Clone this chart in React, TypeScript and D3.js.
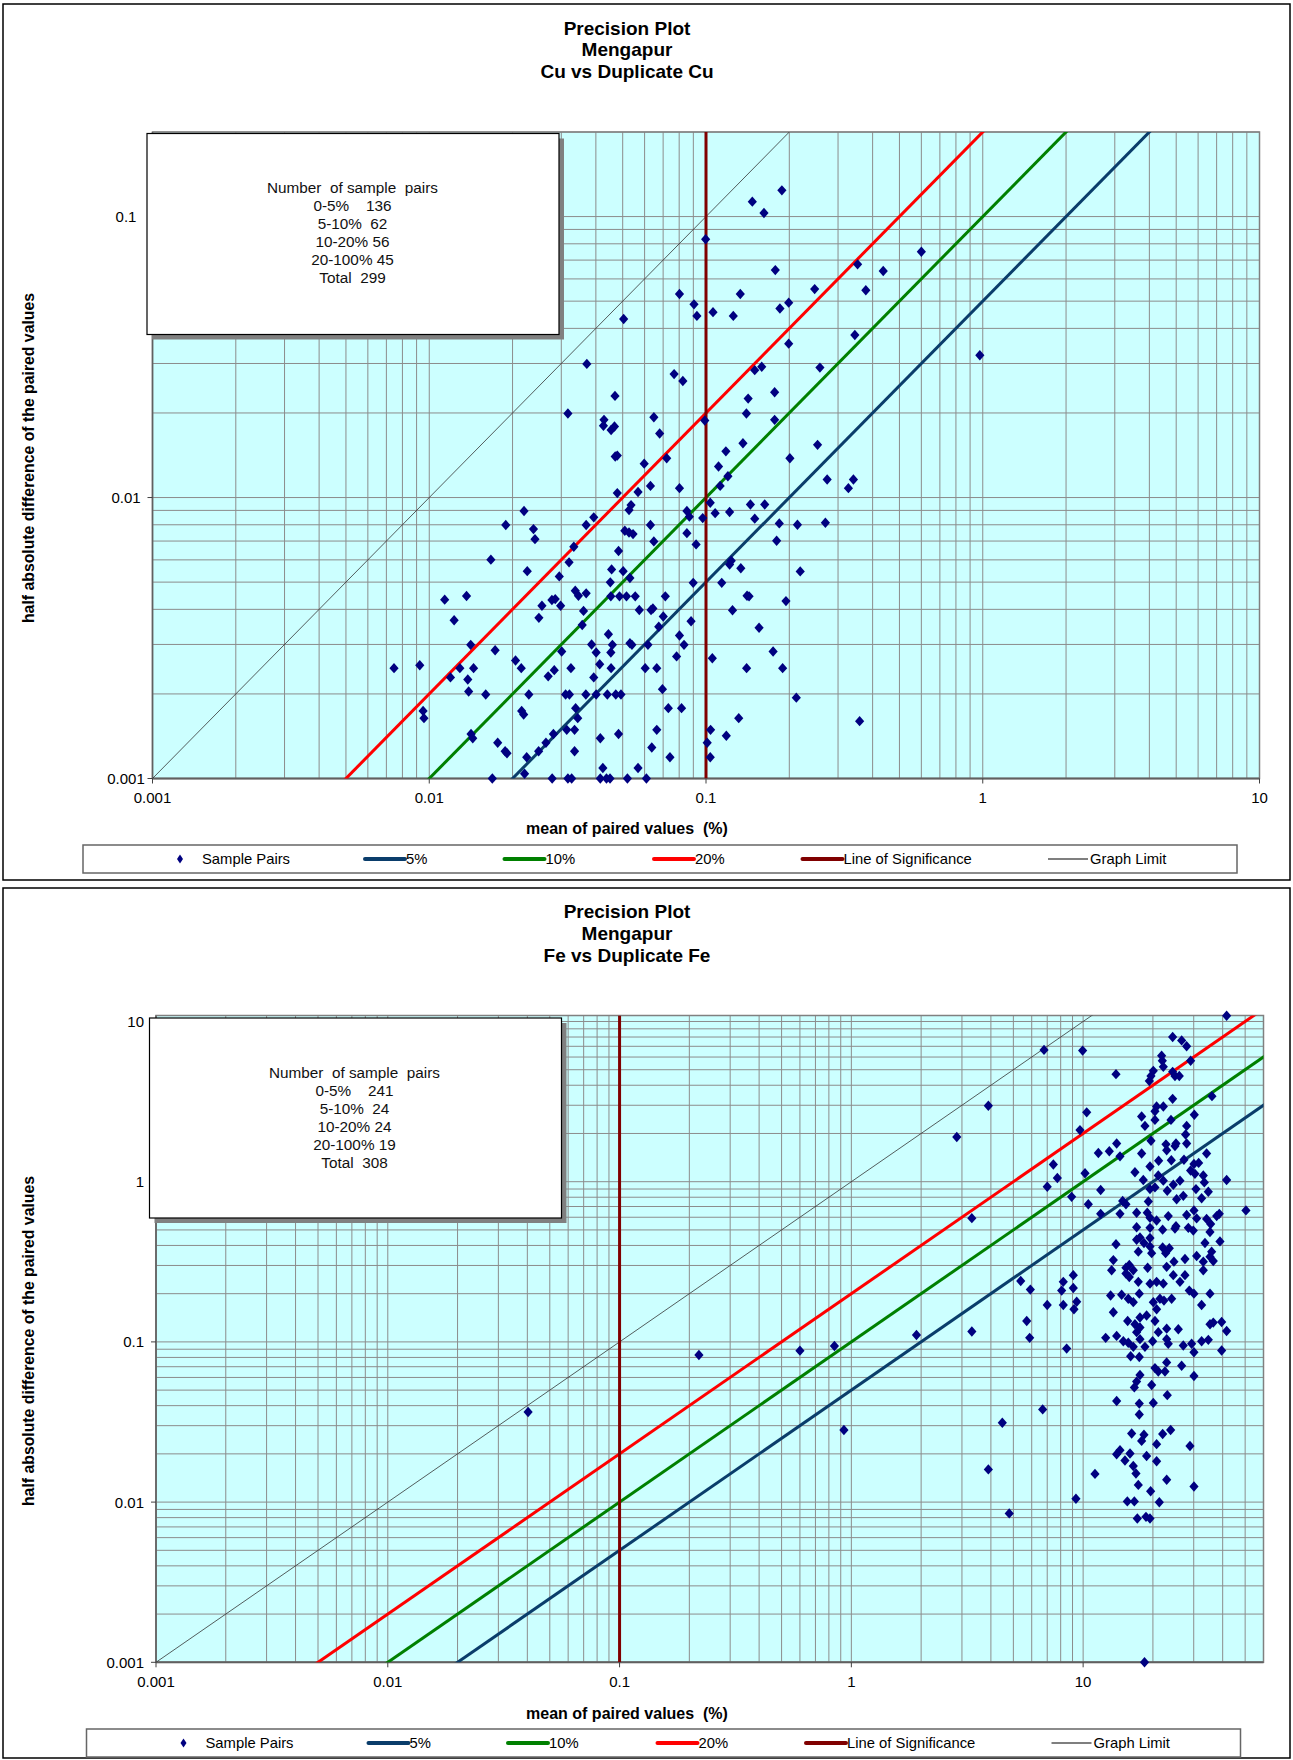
import React from 'react';
import * as d3 from 'd3';

const FONT = 'Liberation Sans, Arial, Helvetica, sans-serif';

// ---- Cu chart ----
const cuTitle = ['Precision Plot', 'Mengapur', 'Cu vs Duplicate Cu'];
const cuSummary = ['Number  of sample  pairs', '0-5%    136', '5-10%  62', '10-20% 56', '20-100% 45', 'Total  299'];
const cuXTicks = [0.001, 0.01, 0.1, 1, 10];
const cuYTicks = [0.001, 0.01, 0.1];
const cuXDomain = [0.001, 10];
const cuYDomain = [0.001, 0.2];

// mean of paired values (%)
const cuMean = [
  0.188, 0.147, 0.162, 0.0997, 0.6, 0.353, 0.178, 0.437, 0.247, 0.378,
  0.0802, 0.133, 0.199, 0.0905, 0.185, 0.106, 0.0927, 0.1255, 0.0504, 0.345,
  0.199, 0.976, 0.0371, 0.15, 0.159, 0.258, 0.0767, 0.0825, 0.177, 0.0469,
  0.142, 0.0317, 0.14, 0.099, 0.0648, 0.0428, 0.177, 0.0426, 0.0467, 0.0454,
  0.068, 0.136, 0.253, 0.118, 0.047, 0.0478, 0.0721, 0.201, 0.0598, 0.111,
  0.274, 0.341, 0.12, 0.063, 0.0802, 0.1125, 0.0478, 0.0568, 0.327, 0.1036,
  0.1447, 0.163, 0.0536, 0.0527, 0.022, 0.0853, 0.1079, 0.1217, 0.0393, 0.0871,
  0.0973, 0.15, 0.0189, 0.0369, 0.063, 0.184, 0.214, 0.27, 0.0238, 0.0509,
  0.0527, 0.0545, 0.0853, 0.0241, 0.0648, 0.0921, 0.18, 0.0333, 0.0483, 0.0167,
  0.032, 0.1234, 0.1217, 0.1336, 0.0226, 0.0456, 0.0502, 0.219, 0.0295, 0.0531,
  0.0451, 0.0899, 0.114, 0.0337, 0.0346, 0.0369, 0.0453, 0.0487, 0.0516, 0.0555,
  0.0713, 0.1407, 0.1431, 0.01137, 0.01364, 0.02554, 0.02775, 0.02852, 0.02983, 0.1945,
  0.0361, 0.0574, 0.0633, 0.0643, 0.1247, 0.0123, 0.0249, 0.0701, 0.0883, 0.0357,
  0.0675, 0.1555, 0.0444, 0.0802, 0.0833, 0.01412, 0.0386, 0.0459, 0.0453, 0.0531,
  0.054, 0.0617, 0.0173, 0.0301, 0.0401, 0.1748, 0.0783, 0.1054, 0.0205, 0.0413,
  0.00746, 0.00924, 0.0129, 0.01446, 0.0215, 0.0325, 0.0454, 0.0603, 0.0664, 0.1402,
  0.1892, 0.01193, 0.0269, 0.0283, 0.0393, 0.01378, 0.01388, 0.016, 0.0229, 0.0311,
  0.0321, 0.0368, 0.0401, 0.044, 0.0472, 0.0493, 0.0696, 0.212, 0.0095, 0.00957,
  0.02157, 0.02194, 0.0338, 0.0731, 0.0816, 0.0344, 0.1313, 0.359, 0.01416, 0.01436,
  0.0281, 0.0314, 0.0335, 0.0483, 0.0664, 0.1039, 0.1184, 0.0415, 0.01767, 0.0264,
  0.101, 0.0188, 0.0191, 0.02485, 0.0335, 0.0637, 0.0741, 0.1036, 0.0225, 0.0424,
  0.0568, 0.0221, 0.0169, 0.0278, 0.0317, 0.0327, 0.0415, 0.0437, 0.045, 0.052,
  0.0609,
];

// half absolute difference of the paired values
const cuHalfDiff = [
  0.124, 0.113, 0.103, 0.083, 0.075, 0.0676, 0.0645, 0.064, 0.0552, 0.0547,
  0.053, 0.053, 0.0494, 0.0487, 0.0471, 0.0457, 0.0443, 0.0443, 0.0432, 0.0379,
  0.0353, 0.0321, 0.0299, 0.0284, 0.0292, 0.029, 0.0275, 0.026, 0.0237, 0.023,
  0.0225, 0.0199, 0.0199, 0.0188, 0.0193, 0.0189, 0.0189, 0.018, 0.0179, 0.0174,
  0.0169, 0.0156, 0.0154, 0.0146, 0.014, 0.0141, 0.0138, 0.0138, 0.0132, 0.0129,
  0.0116, 0.0116, 0.0119, 0.011, 0.0108, 0.011, 0.01037, 0.01046, 0.0108, 0.00958,
  0.00945, 0.00945, 0.0094, 0.00902, 0.00895, 0.00895, 0.0088, 0.00888, 0.0085, 0.00855,
  0.00845, 0.00841, 0.00798, 0.00798, 0.00798, 0.00809, 0.008, 0.00813, 0.00772, 0.00762,
  0.00751, 0.00741, 0.00747, 0.00711, 0.00698, 0.00681, 0.00702, 0.00668, 0.00645, 0.00601,
  0.00588, 0.00596, 0.00578, 0.0056, 0.00547, 0.00555, 0.00547, 0.00546, 0.00524, 0.00517,
  0.00499, 0.00497, 0.00497, 0.00466, 0.00447, 0.00456, 0.00445, 0.00445, 0.00445, 0.00445,
  0.00445, 0.00447, 0.00445, 0.00433, 0.00446, 0.00412, 0.00432, 0.00435, 0.00412, 0.00428,
  0.00395, 0.00398, 0.00398, 0.00403, 0.00397, 0.00366, 0.00373, 0.00377, 0.00363, 0.00352,
  0.00347, 0.00344, 0.00326, 0.00323, 0.00299, 0.00299, 0.003, 0.00299, 0.00281, 0.00303,
  0.00299, 0.00299, 0.00286, 0.00283, 0.00281, 0.00283, 0.00272, 0.00268, 0.00263, 0.00255,
  0.00247, 0.00253, 0.00247, 0.00247, 0.00247, 0.00247, 0.00247, 0.00247, 0.00247, 0.00247,
  0.00247, 0.00229, 0.00231, 0.00243, 0.00229, 0.00225, 0.00204, 0.00199, 0.00199, 0.00199,
  0.00199, 0.00199, 0.00199, 0.00199, 0.00199, 0.00199, 0.00208, 0.00194, 0.00174, 0.00164,
  0.00174, 0.00169, 0.00178, 0.00178, 0.00178, 0.00164, 0.00164, 0.0016, 0.00144, 0.00139,
  0.00144, 0.00149, 0.00149, 0.00144, 0.00149, 0.00149, 0.00142, 0.00139, 0.00134, 0.00134,
  0.00134, 0.00125, 0.00123, 0.00125, 0.00125, 0.00129, 0.00119, 0.00119, 0.00119, 0.00109,
  0.00109, 0.00104, 0.001, 0.001, 0.001, 0.001, 0.001, 0.001, 0.001, 0.001,
  0.001,
];

// ---- Fe chart ----
const feTitle = ['Precision Plot', 'Mengapur', 'Fe vs Duplicate Fe'];
const feSummary = ['Number  of sample  pairs', '0-5%    241', '5-10%  24', '10-20% 24', '20-100% 19', 'Total  308'];
const feXTicks = [0.001, 0.01, 0.1, 1, 10];
const feYTicks = [0.001, 0.01, 0.1, 1, 10];
const feXDomain = [0.001, 60];
const feYDomain = [0.001, 10.9];

const feMean = [
  0.0403, 0.22, 0.6, 0.845, 0.929, 1.91, 2.85, 3.9, 3.31, 3.31,
  5.38, 5.92, 5.71, 5.88, 4.48, 3.9, 4.8,
  41.6, 24.33, 26.61, 27.96, 6.78, 9.95, 21.81, 21.96, 22.18, 29.09,
  20.08, 19.62, 19.3, 24.33, 24.9, 25.99, 13.86, 24.33, 35.96, 10.36,
  20.75, 22.18, 20.41, 17.88, 18.48, 23.93, 30.17, 27.96, 20.41, 9.69,
  27.68, 19.62, 27.96, 22.77, 25.15, 24.9, 13.95, 22.93, 11.63, 12.97,
  14.42, 17.88, 24.01, 21.17, 27.23, 34.1, 30.07, 31.5, 7.44, 7.74,
  10.19, 7.0, 16.73, 18.18, 19.43, 21.1, 22.18, 24.49, 26.17, 29.09,
  30.37, 32.99, 33.33, 41.6, 11.9, 8.92, 10.53, 14.81, 15.3, 14.42,
  11.9, 19.43, 20.41, 23.07, 25.32, 27.05, 30.68, 32.45, 34.68, 19.11,
  17.01, 18.91, 19.43, 20.75, 23.3, 27.96, 30.07, 30.88, 34.1, 37.67,
  38.68, 50.4, 17.01, 19.43, 22.03, 24.9, 25.15, 28.43, 29.87, 35.26,
  35.49, 13.86, 17.01, 17.59, 18.3, 19.43, 17.3, 19.43, 19.75, 22.03,
  23.54, 22.69, 33.54, 35.85, 38.93, 13.5, 13.27, 15.3, 15.82, 16.46,
  18.98, 22.93, 24.65, 27.5, 30.88, 32.99, 36.44, 32.99, 35.26, 9.07,
  8.21, 9.07, 8.08, 7.0, 8.21, 9.38, 9.13, 15.3, 15.82, 17.3,
  19.43, 20.75, 22.18, 24.49, 26.17, 27.5, 28.71, 30.07, 35.26, 13.14,
  14.66, 15.66, 16.46, 17.47, 20.08, 21.45, 22.32, 24.09, 32.45, 20.75,
  13.5, 15.56, 16.73, 17.59, 18.79, 20.41, 17.59, 17.01, 25.74, 22.93,
  21.1, 35.26, 36.44, 39.59, 41.6, 12.51, 13.95, 14.91, 15.66, 16.46,
  17.59, 18.48, 19.95, 22.93, 23.3, 27.05, 29.38, 30.07, 32.45, 34.68,
  39.59, 8.49, 16.03, 17.47, 22.93, 26.61, 20.41, 21.1, 22.55, 17.59,
  17.01, 16.63, 19.75, 30.07, 13.95, 17.47, 20.08, 23.07, 17.47, 6.69,
  16.19, 18.3, 17.88, 22.03, 23.85, 20.75, 28.9, 13.95, 14.42, 15.93,
  15.15, 18.79, 20.75, 16.46, 16.9, 11.25, 22.93, 17.3, 30.07, 19.55,
  9.31, 15.51, 16.63, 21.31, 17.13, 18.67, 19.43, 18.4,
];

const feHalfDiff = [
  0.0365, 0.0829, 0.0882, 0.0942, 0.0282, 0.1105, 1.9, 2.98, 0.592, 0.116,
  0.24, 0.212, 0.135, 0.106, 0.0313, 0.016, 0.0085,
  10.86, 8.0, 7.62, 7.01, 6.65, 6.58, 6.12, 5.69, 5.21, 5.69,
  4.92, 4.57, 4.25, 4.85, 4.57, 4.57, 4.69, 3.29, 3.42, 2.71,
  2.95, 2.95, 2.75, 2.55, 2.23, 2.43, 2.62, 2.23, 2.43, 2.1,
  1.97, 1.8, 1.73, 1.71, 1.73, 1.67, 1.73, 1.57, 1.51, 1.55,
  1.44, 1.5, 1.36, 1.35, 1.37, 1.5, 1.29, 1.31, 1.28, 1.055,
  1.13, 0.93, 1.146, 1.024, 1.245, 1.092, 1.015, 0.957, 1.015, 1.174,
  1.119, 1.092, 0.99, 1.024, 0.887, 0.804, 0.723, 0.758, 0.723, 0.63,
  0.63, 0.899, 0.921, 0.878, 0.777, 0.816, 0.899, 0.789, 0.865, 0.752,
  0.64, 0.64, 0.595, 0.573, 0.61, 0.619, 0.662, 0.59, 0.586, 0.61,
  0.63, 0.662, 0.52, 0.515, 0.502, 0.51, 0.527, 0.515, 0.495, 0.485,
  0.545, 0.407, 0.434, 0.449, 0.414, 0.445, 0.366, 0.394, 0.358, 0.388,
  0.384, 0.358, 0.414, 0.366, 0.424, 0.324, 0.28, 0.29, 0.302, 0.28,
  0.29, 0.294, 0.317, 0.329, 0.344, 0.317, 0.32, 0.28, 0.34, 0.261,
  0.237, 0.217, 0.209, 0.17, 0.17, 0.178, 0.16, 0.267, 0.254, 0.237,
  0.231, 0.237, 0.231, 0.261, 0.237, 0.261, 0.209, 0.2, 0.2, 0.195,
  0.197, 0.186, 0.177, 0.2, 0.177, 0.186, 0.181, 0.186, 0.17, 0.16,
  0.153, 0.135, 0.129, 0.142, 0.146, 0.135, 0.123, 0.115, 0.12, 0.121,
  0.115, 0.129, 0.132, 0.133, 0.117, 0.106, 0.109, 0.101, 0.0987, 0.0931,
  0.104, 0.0931, 0.101, 0.104, 0.0973, 0.0949, 0.0973, 0.0861, 0.101, 0.103,
  0.0883, 0.0908, 0.0813, 0.0805, 0.0745, 0.071, 0.0686, 0.0653, 0.0653, 0.0622,
  0.0565, 0.052, 0.0538, 0.0613, 0.0428, 0.0412, 0.0416, 0.0465, 0.0352, 0.0379,
  0.0268, 0.0263, 0.0241, 0.0266, 0.0282, 0.023, 0.0224, 0.0199, 0.0211, 0.0201,
  0.0182, 0.0194, 0.018, 0.0168, 0.0151, 0.015, 0.0138, 0.0128, 0.0125, 0.0117,
  0.0105, 0.0101, 0.0101, 0.00998, 0.0079, 0.00809, 0.0079, 0.001,
];

// precision lines: half diff = ratio * mean
const precisionLines = [
  { label: '5%', ratio: 0.05, color: '#0a3d6b' },
  { label: '10%', ratio: 0.1, color: '#008000' },
  { label: '20%', ratio: 0.2, color: '#ff0000' },
];
const significanceLevel = 0.1;
const graphLimitRatio = 1;

type Box = { x: number; y: number; w: number; h: number };
type Layout = {
  id: string;
  frame: Box;
  plot: { x0: number; x1: number; y0: number; y1: number };
  titleX: number;
  titleY: number[];
  box: Box;
  boxTextX: number;
  boxTextY: number;
  yLabel: { x: number; y: number };
  xLabel: { x: number; y: number };
  legend: Box;
  yTickX: number;
  yTickAnchor: string;
};

const cuLayout: Layout = {
  id: 'cu',
  frame: { x: 3, y: 4, w: 1287, h: 876 },
  plot: { x0: 152.5, x1: 1259.5, y0: 132, y1: 778.5 },
  titleX: 627,
  titleY: [28, 49.5, 71],
  box: { x: 147, y: 133.5, w: 412, h: 201 },
  boxTextX: 352.5,
  boxTextY: 187.5,
  yLabel: { x: 28, y: 458 },
  xLabel: { x: 627, y: 828 },
  legend: { x: 83, y: 845, w: 1154, h: 28 },
  yTickX: 126,
  yTickAnchor: 'middle',
};

const feLayout: Layout = {
  id: 'fe',
  frame: { x: 3, y: 888, w: 1287, h: 870 },
  plot: { x0: 156, x1: 1263.5, y0: 1015.5, y1: 1662.3 },
  titleX: 627,
  titleY: [911.5, 933, 955],
  box: { x: 149.5, y: 1018, w: 412, h: 200 },
  boxTextX: 354.5,
  boxTextY: 1072,
  yLabel: { x: 28, y: 1341 },
  xLabel: { x: 627, y: 1713 },
  legend: { x: 86.5, y: 1729, w: 1154, h: 28 },
  yTickX: 144,
  yTickAnchor: 'end',
};

function logGrid(domain: number[]) {
  const out: number[] = [];
  const k0 = Math.floor(Math.log10(domain[0]));
  const k1 = Math.ceil(Math.log10(domain[1]));
  for (let k = k0; k <= k1; k++) {
    for (let m = 1; m <= 9; m++) {
      const v = +(m * Math.pow(10, k)).toPrecision(6);
      if (v >= domain[0] * 0.9999 && v <= domain[1] * 1.0001) out.push(v);
    }
  }
  return out;
}

const diamond = 'M0,-5.2L4.6,0L0,5.2L-4.6,0Z';

function PrecisionChart({
  layout, title, summary, mean, halfDiff, xDomain, yDomain, xTicks, yTicks,
}: {
  layout: Layout; title: string[]; summary: string[]; mean: number[]; halfDiff: number[];
  xDomain: number[]; yDomain: number[]; xTicks: number[]; yTicks: number[];
}) {
  const { plot, frame, box, legend } = layout;
  const x = d3.scaleLog().domain(xDomain).range([plot.x0, plot.x1]);
  const y = d3.scaleLog().domain(yDomain).range([plot.y1, plot.y0]);
  const clipId = `clip-${layout.id}`;

  const ratioLine = (r: number) =>
    d3.line<number>().x(v => x(v)).y(v => y(v * r))([xDomain[0] * 0.5, xDomain[1] * 2]) || '';

  const points = mean.map((m, i) => ({ m, h: halfDiff[i] }));
  const lx = (dx: number) => legend.x + dx;
  const ly = legend.y + legend.h / 2;

  return (
    <g fontFamily={FONT}>
      <defs>
        <clipPath id={clipId}>
          <rect x={plot.x0} y={plot.y0} width={plot.x1 - plot.x0} height={plot.y1 - plot.y0} />
        </clipPath>
      </defs>

      <rect x={frame.x} y={frame.y} width={frame.w} height={frame.h} fill="#fff" stroke="#000" strokeWidth={1.5} />

      {title.map((t, i) => (
        <text key={i} x={layout.titleX} y={layout.titleY[i]} textAnchor="middle" dominantBaseline="central"
          fontSize={19} fontWeight="bold">{t}</text>
      ))}

      {/* plot area */}
      <rect x={plot.x0} y={plot.y0} width={plot.x1 - plot.x0} height={plot.y1 - plot.y0} fill="#ccffff" />
      <g stroke="#8c8c8c" strokeWidth={1}>
        {logGrid(xDomain).map(v => (
          <line key={'gx' + v} x1={x(v)} x2={x(v)} y1={plot.y0} y2={plot.y1} />
        ))}
        {logGrid(yDomain).map(v => (
          <line key={'gy' + v} x1={plot.x0} x2={plot.x1} y1={y(v)} y2={y(v)} />
        ))}
      </g>
      <rect x={plot.x0} y={plot.y0} width={plot.x1 - plot.x0} height={plot.y1 - plot.y0} fill="none"
        stroke="#808080" strokeWidth={1.5} />

      {/* axes */}
      <line x1={plot.x0} x2={plot.x1} y1={plot.y1} y2={plot.y1} stroke="#606060" strokeWidth={2} />
      <line x1={plot.x0} x2={plot.x0} y1={plot.y0} y2={plot.y1} stroke="#606060" strokeWidth={1.5} />
      {xTicks.map(v => (
        <g key={'xt' + v}>
          <line x1={x(v)} x2={x(v)} y1={plot.y1} y2={plot.y1 + 5} stroke="#404040" />
          <text x={x(v)} y={plot.y1 + 19} textAnchor="middle" dominantBaseline="central" fontSize={15}>{String(v)}</text>
        </g>
      ))}
      {yTicks.map(v => (
        <g key={'yt' + v}>
          <line x1={plot.x0 - 5} x2={plot.x0} y1={y(v)} y2={y(v)} stroke="#404040" />
          <text x={layout.yTickX} y={y(v)} textAnchor={layout.yTickAnchor} dominantBaseline="central" fontSize={15}>{String(v)}</text>
        </g>
      ))}

      {/* reference lines */}
      <g clipPath={`url(#${clipId})`} fill="none">
        <path d={ratioLine(graphLimitRatio)} stroke="#333" strokeWidth={0.8} />
        {precisionLines.map(p => (
          <path key={p.label} d={ratioLine(p.ratio)} stroke={p.color} strokeWidth={3} />
        ))}
        <line x1={x(significanceLevel)} x2={x(significanceLevel)} y1={plot.y0} y2={plot.y1} stroke="#800000" strokeWidth={3} />
      </g>

      {/* sample pairs */}
      <g fill="#000080">
        {points.map((p, i) => (
          <path key={i} d={diamond} transform={`translate(${x(p.m)},${y(p.h)})`} />
        ))}
      </g>

      {/* summary box */}
      <rect x={box.x + 5} y={box.y + 5} width={box.w} height={box.h} fill="#808080" />
      <rect x={box.x} y={box.y} width={box.w} height={box.h} fill="#fff" stroke="#000" strokeWidth={1.2} />
      {summary.map((s, i) => (
        <text key={i} x={layout.boxTextX} y={layout.boxTextY + i * 18} textAnchor="middle" dominantBaseline="central"
          fontSize={15.3} fill="#111" style={{ whiteSpace: 'pre' }}>{s}</text>
      ))}

      {/* axis titles */}
      <text transform={`translate(${layout.yLabel.x},${layout.yLabel.y}) rotate(-90)`} textAnchor="middle"
        dominantBaseline="central" fontSize={15.8} fontWeight="bold">half absolute difference of the paired values</text>
      <text x={layout.xLabel.x} y={layout.xLabel.y} textAnchor="middle" dominantBaseline="central" fontSize={16}
        fontWeight="bold" style={{ whiteSpace: 'pre' }}>mean of paired values  (%)</text>

      {/* legend */}
      <rect x={legend.x} y={legend.y} width={legend.w} height={legend.h} fill="#fff" stroke="#666" strokeWidth={1.5} />
      <g fontSize={14.8} dominantBaseline="central">
        <path d="M0,-4.5L3,0L0,4.5L-3,0Z" fill="#000080" transform={`translate(${lx(97)},${ly})`} />
        <text x={lx(119)} y={ly}>Sample Pairs</text>
        {precisionLines.map((p, i) => {
          const starts = [282, 421.5, 571];
          return (
            <g key={p.label}>
              <line x1={lx(starts[i])} x2={lx(starts[i] + 40)} y1={ly} y2={ly} stroke={p.color} strokeWidth={4} strokeLinecap="round" />
              <text x={lx(starts[i] + 41)} y={ly}>{p.label}</text>
            </g>
          );
        })}
        <line x1={lx(719.5)} x2={lx(759.5)} y1={ly} y2={ly} stroke="#800000" strokeWidth={4} strokeLinecap="round" />
        <text x={lx(760.5)} y={ly}>Line of Significance</text>
        <line x1={lx(965)} x2={lx(1005)} y1={ly} y2={ly} stroke="#000" strokeWidth={1.2} />
        <text x={lx(1007)} y={ly}>Graph Limit</text>
      </g>
    </g>
  );
}

export default function App() {
  return (
    <svg width={1293} height={1760} style={{ position: 'absolute', left: 0, top: 0, background: '#fff' }}>
      <PrecisionChart layout={cuLayout} title={cuTitle} summary={cuSummary} mean={cuMean} halfDiff={cuHalfDiff}
        xDomain={cuXDomain} yDomain={cuYDomain} xTicks={cuXTicks} yTicks={cuYTicks} />
      <PrecisionChart layout={feLayout} title={feTitle} summary={feSummary} mean={feMean} halfDiff={feHalfDiff}
        xDomain={feXDomain} yDomain={feYDomain} xTicks={feXTicks} yTicks={feYTicks} />
    </svg>
  );
}
